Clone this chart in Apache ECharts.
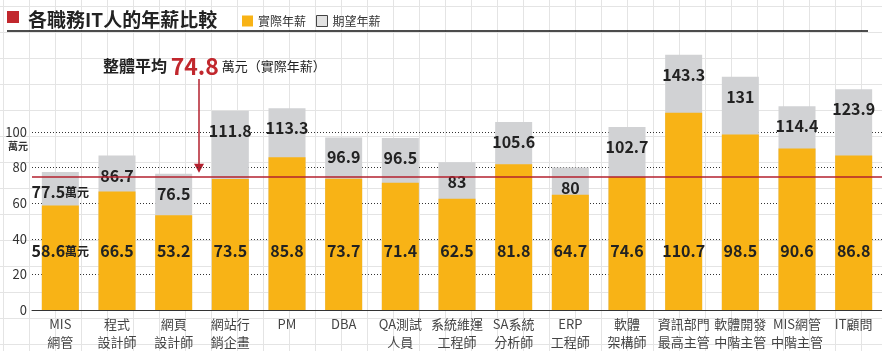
<!DOCTYPE html>
<html><head><meta charset="utf-8">
<script src="https://cdn.jsdelivr.net/npm/echarts@6/dist/echarts.min.js"></script>
<style>
html,body{margin:0;padding:0;background:#fff;}
#c{width:882px;height:351px;
background-color:#fff;
background-image:linear-gradient(to right,#e4e4e4 1px,transparent 1px),linear-gradient(to bottom,#e4e4e4 1px,transparent 1px);
background-size:26px 26px;background-position:3px 6px;}
</style></head>
<body><div id="c"></div>
<script>
const categories = ['MIS\n網管','程式\n設計師','網頁\n設計師','網站行\n銷企畫','PM','DBA','QA測試\n人員','系統維運\n工程師','SA系統\n分析師','ERP\n工程師','軟體\n架構師','資訊部門\n最高主管','軟體開發\n中階主管','MIS網管\n中階主管','IT顧問'];
const actual = [58.6,66.5,53.2,73.5,85.8,73.7,71.4,62.5,81.8,64.7,74.6,110.7,98.5,90.6,86.8];
const expected = [77.5,86.7,76.5,111.8,113.3,96.9,96.5,83,105.6,80,102.7,143.3,131,114.4,123.9];
const average = 74.8;
const yTicks = [0,20,40,60,80,100];

const FONT = '"Noto Sans CJK TC","Noto Sans",sans-serif';
const YEL = '#F8B316', GRY = '#D1D2D4', RED = '#B3202E';
const chart = echarts.init(document.getElementById('c'));

function lbl(v, i){ return i===0 ? v + '{u|萬元}' : String(v); }

chart.setOption({
  animation:false,
  textStyle:{fontFamily:FONT},
  title:{text:'各職務IT人的年薪比較',left:23,top:5,textStyle:{fontFamily:FONT,fontSize:19,fontWeight:'bold',color:'#222'}},
  legend:{left:237,top:10,itemWidth:11,itemHeight:11,itemGap:10,
    textStyle:{fontFamily:FONT,fontSize:12,color:'#333'},
    data:[{name:'實際年薪',icon:'rect'},{name:'期望年薪',icon:'rect',itemStyle:{color:'#e2e2e2',borderColor:'#444',borderWidth:1}}]},
  grid:{left:32,top:25,width:855,bottom:41,containLabel:false},
  xAxis:{type:'category',data:categories,
    axisLine:{lineStyle:{color:'#333',width:1}},axisTick:{show:false},
    axisLabel:{fontFamily:FONT,fontSize:13,color:'#444',lineHeight:18,margin:5,interval:0}},
  yAxis:{type:'value',min:0,max:160,interval:20,
    axisLine:{show:false},axisTick:{show:false},splitLine:{show:false},
    axisLabel:{fontFamily:FONT,fontSize:13,color:'#333',margin:5,formatter:v=> v<=100? String(v):''}},
  series:[
    {name:'期望年薪',type:'bar',data:expected,barWidth:37,itemStyle:{color:GRY},z:2,
     label:{show:true,position:'insideTop',distance:12,fontFamily:FONT,fontSize:16,fontWeight:'bold',color:'#222',
       formatter:p=>lbl(p.value,p.dataIndex),rich:{u:{fontFamily:FONT,fontSize:12,fontWeight:'bold',color:'#222'}}},
     markLine:{silent:true,symbol:'none',label:{show:false},z:1,
       lineStyle:{color:'#333',type:[1,2],width:1},
       data:yTicks.slice(1).map(v=>({yAxis:v}))}},
    {name:'實際年薪',type:'bar',data:actual,barWidth:37,barGap:'-100%',itemStyle:{color:YEL},z:3,
     label:{show:true,position:'insideBottom',distance:51,fontFamily:FONT,fontSize:16,fontWeight:'bold',color:'#222',
       formatter:p=>lbl(p.value,p.dataIndex),rich:{u:{fontFamily:FONT,fontSize:12,fontWeight:'bold',color:'#222'}}},
     markLine:{silent:true,symbol:'none',label:{show:false},z:5,
       lineStyle:{color:RED,type:'solid',width:1.5},
       data:[{yAxis:average}]}}
  ]
});

const p2 = chart.convertToPixel({xAxisIndex:0},2);
const p3 = chart.convertToPixel({xAxisIndex:0},3);
const ax = Math.round((p2+p3)/2) - 3;
const avgY = chart.convertToPixel({yAxisIndex:0},average);
const y100 = chart.convertToPixel({yAxisIndex:0},100);
chart.setOption({graphic:[
  {type:'rect',shape:{x:7,y:11,width:12,height:12},style:{fill:'#C1272D'}},
  {type:'line',shape:{x1:7,y1:31,x2:868,y2:31},style:{stroke:'#111',lineWidth:1.5}},
  {type:'line',shape:{x1:ax,y1:79,x2:ax,y2:avgY-6},style:{stroke:RED,lineWidth:1.5}},
  {type:'polygon',shape:{points:[[ax-5,avgY-13],[ax+5,avgY-13],[ax,avgY-4]]},style:{fill:RED}},
  {type:'text',x:103,y:66,style:{text:'{a|整體平均 }{b|'+average+'}{c| 萬元（實際年薪）}',verticalAlign:'middle',
    rich:{a:{fontFamily:FONT,fontSize:16,fontWeight:'bold',fill:'#222'},
          b:{fontFamily:FONT,fontSize:23,fontWeight:'bold',fill:'#C1272D'},
          c:{fontFamily:FONT,fontSize:13,fill:'#222'}}}},
  {type:'text',x:8,y:y100+14,style:{text:'萬元',fontFamily:FONT,fontSize:10,fontWeight:'bold',fill:'#333',verticalAlign:'middle'}}
]});
</script></body></html>
